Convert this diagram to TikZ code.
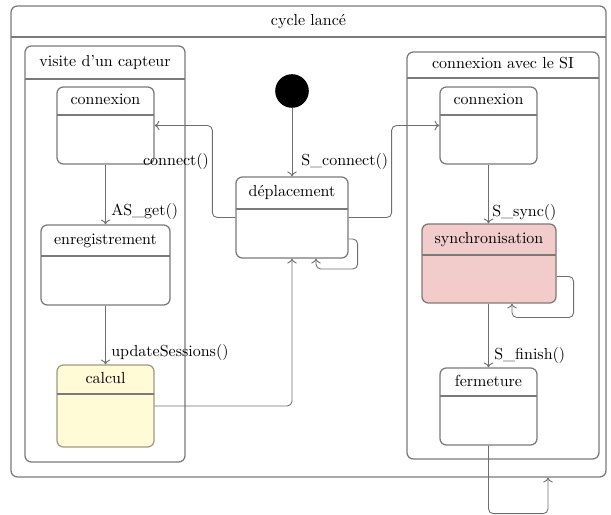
\documentclass[tikz,border=0pt]{standalone}
\usetikzlibrary{fit,calc,arrows.meta}
\definecolor{lineg}{HTML}{6E6E6E}
\definecolor{boxg}{HTML}{7A7A7A}
\definecolor{calcfill}{HTML}{FFFBD6}
\definecolor{calcdraw}{HTML}{9E9A84}
\definecolor{syncfill}{HTML}{F2CBCB}
\definecolor{syncdraw}{HTML}{857676}
\tikzset{
  stbox/.style={draw=boxg, line width=0.8pt, rounded corners=4pt, inner sep=0pt},
  stdiv/.style={draw=boxg, line width=0.8pt},
  sttitle/.style={inner sep=0pt, text height=6.9pt, text depth=1.9pt},
  tr/.style={draw=lineg, line width=0.55pt, rounded corners=3pt, -{To[length=3pt,width=6pt]}},
  lbl/.style={inner sep=0pt, text height=6.9pt, text depth=1.9pt},
  calcst/.style={fill=calcfill, draw=calcdraw},
  syncst/.style={fill=syncfill, draw=syncdraw},
  plainst/.style={}
}
\newcommand\stbox[8]{%
  \node[stbox, #8, fit={(#2,#3) (#4,#5)}] (#1) {};
  \draw[stdiv] (#2,#6) -- (#4,#6);
  \node[sttitle] (#1-t) at ({(#2+#4)/2},{(#3+#6)/2}) {#7};
}
\begin{document}
\begin{tikzpicture}[x=0.625pt,y=-0.625pt]
\useasboundingbox (0,0) rectangle (611,515);
% containers
\stbox{outer}{11}{6}{606}{477}{37}{cycle lanc\'e}{plainst}
\stbox{visite}{25}{46}{185}{462}{79}{visite d'un capteur}{plainst}
\stbox{si}{407}{52}{599}{459}{78}{connexion avec le SI}{plainst}
% states
\stbox{lc}{57}{87}{154}{164}{115}{connexion}{plainst}
\stbox{en}{41}{225}{170}{305}{256}{enregistrement}{plainst}
\stbox{ca}{57}{365}{154}{447}{394}{calcul}{calcst}
\stbox{dep}{236}{177}{348}{258}{209}{d\'eplacement}{plainst}
\stbox{rc}{440}{87}{537}{164}{115}{connexion}{plainst}
\stbox{sy}{422}{224}{556}{303}{255}{synchronisation}{syncst}
\stbox{fe}{440}{368}{537}{445}{396}{fermeture}{plainst}
% initial state
\node[circle, fill=black, minimum size=21pt, inner sep=0pt] (init) at (292,91) {};
% transitions
\draw[tr] (init) -- (dep.north);
\node[lbl, anchor=west] (l1) at (301,162) {S\_connect()};
\draw[tr] (dep.west) -- ++(-23,0) |- (lc.east);
\node[lbl] (l2) at (176,162) {connect()};
\draw[tr] (dep.east) -- ++(43,0) |- (rc.west);
\draw[tr] ($(dep.east)+(0,21.5)$) -| ++(9,30) -| ($(dep.south)+(24,0)$);
\draw[tr] (ca.east) -| (dep.south);
\draw[tr] (lc.south) -- (en.north);
\node[lbl, anchor=west] (l3) at (111,212) {AS\_get()};
\draw[tr] (en.south) -- (ca.north);
\node[lbl, anchor=west] (l4) at (111,353) {updateSessions()};
\draw[tr] (rc.south) -- (rc.south |- sy.north);
\node[lbl, anchor=west] (l5) at (492,213) {S\_sync()};
\draw[tr] ($(sy.east)+(0,13)$) -| ++(17,41) -| ($(sy.south)+(23,0)$);
\draw[tr] (rc.south |- sy.south) -- (fe.north);
\node[lbl, anchor=west] (l6) at (494,355) {S\_finish()};
\draw[tr] (fe.south) -- ++(0,68) -| (outer.south -| 548,0);
\end{tikzpicture}
\end{document}
